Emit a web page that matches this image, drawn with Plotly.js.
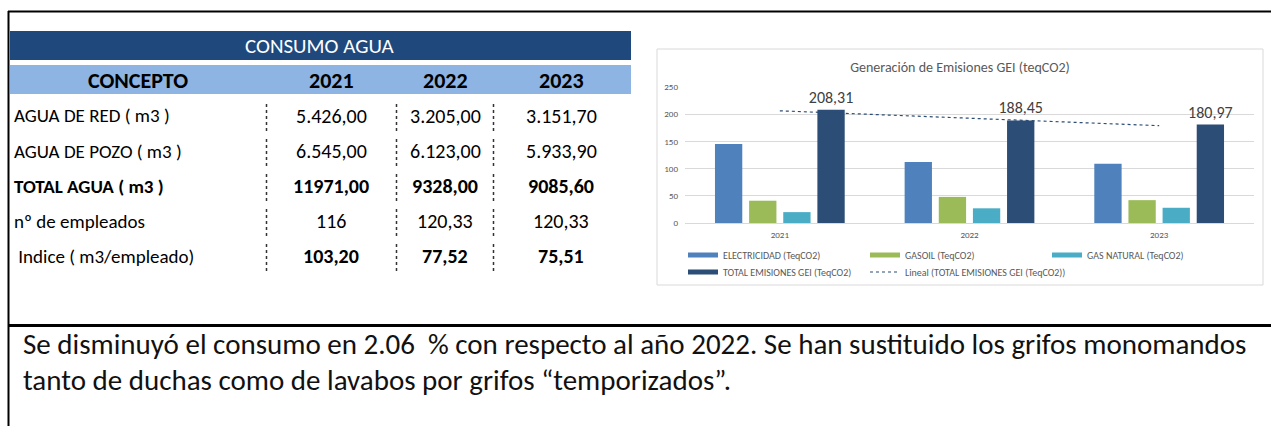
<!DOCTYPE html>
<html>
<head>
<meta charset="utf-8">
<script src="https://cdn.plot.ly/plotly-3.0.1.min.js"></script>
<style>html,body{margin:0;padding:0;background:#fff;}#chart{width:1271px;height:426px;}</style>
</head>
<body>
<div id="chart"></div>
<script>
// ---------- Table data ----------
const tableTitle = "CONSUMO AGUA";
const tableHeaders = ["CONCEPTO", "2021", "2022", "2023"];
const conceptos = ["AGUA DE RED ( m3 )", "AGUA DE POZO ( m3 )", "TOTAL AGUA ( m3 )", "nº de empleados", " Indice ( m3/empleado)"];
const valores2021 = ["5.426,00", "6.545,00", "11971,00", "116", "103,20"];
const valores2022 = ["3.205,00", "6.123,00", "9328,00", "120,33", "77,52"];
const valores2023 = ["3.151,70", "5.933,90", "9085,60", "120,33", "75,51"];
const etiquetaNegrita = [false, false, true, false, false];
const valorNegrita = [false, false, true, false, true];
const comentario = ["Se disminuyó el consumo en 2.06  % con respecto al año 2022. Se han sustituido los grifos monomandos",
                    "tanto de duchas como de lavabos por grifos “temporizados”."];

// ---------- Chart data ----------
const chartTitle = "Generación de Emisiones GEI (teqCO2)";
const years = ["2021", "2022", "2023"];
const electricidad = [145, 112, 109];
const gasoil = [41, 48, 42];
const gasNatural = [20, 27, 28];
const totalGEI = [208.31, 188.45, 180.97];
const seriesNames = ["ELECTRICIDAD (TeqCO2)", "GASOIL (TeqCO2)", "GAS NATURAL (TeqCO2)", "TOTAL EMISIONES GEI (TeqCO2)", "Lineal (TOTAL EMISIONES GEI (TeqCO2))"];
const seriesColors = ['#4f81bd', '#9bbb59', '#4bacc6', '#2c4d75'];

// ---------- helpers ----------
const W = 1271, H = 426;
const X = p => p / W;
const Y = p => 1 - p / H;
const FONT = "Carlito, Lato, Liberation Sans Narrow, sans-serif";
const fmt = v => v.toFixed(2).replace('.', ',');

// linear trendline of totals (least squares)
const n = totalGEI.length;
const xs = totalGEI.map((_, i) => i + 1);
const mx = xs.reduce((a, b) => a + b, 0) / n;
const my = totalGEI.reduce((a, b) => a + b, 0) / n;
let sxy = 0, sxx = 0;
xs.forEach((x, i) => { sxy += (x - mx) * (totalGEI[i] - my); sxx += (x - mx) * (x - mx); });
const slope = sxy / sxx;
const trend = xs.map(x => my + slope * (x - mx));

const barSeries = [electricidad, gasoil, gasNatural, totalGEI];
const traces = [];
barSeries.forEach((ys, i) => {
  const t = {type: 'bar', name: seriesNames[i], x: years, y: ys, marker: {color: seriesColors[i]},
    showlegend: false, hoverinfo: 'skip'};
  if (i === 3) {
    t.text = totalGEI.map(fmt); t.textposition = 'outside'; t.cliponaxis = false; t.constraintext = 'none';
    t.textfont = {family: FONT, size: 16, color: '#404040'};
  }
  traces.push(t);
});
// legend entries (wide Excel-like keys)
barSeries.forEach((ys, i) => {
  traces.push({type: 'scatter', mode: 'lines', name: seriesNames[i], x: [years[0]], y: [null],
    line: {color: seriesColors[i], width: 5}, legend: i < 3 ? 'legend' : 'legend2', hoverinfo: 'skip'});
});
traces.push({type: 'scatter', mode: 'lines', name: seriesNames[4], x: years, y: trend, legend: 'legend3',
  line: {color: '#2c4d75', width: 1.2, dash: 'dot'}, hoverinfo: 'skip'});

// ---------- shapes ----------
const shapes = [];
shapes.push({type: 'rect', xref: 'paper', yref: 'paper', x0: X(657), x1: X(1263), y0: Y(285), y1: Y(49),
  line: {color: '#d9d9d9', width: 1}, fillcolor: 'rgba(0,0,0,0)', layer: 'below'});
shapes.push({type: 'line', xref: 'paper', yref: 'paper', x0: X(8), x1: X(1271), y0: Y(11.5), y1: Y(11.5), line: {color: '#000', width: 2}});
shapes.push({type: 'line', xref: 'paper', yref: 'paper', x0: X(8.5), x1: X(8.5), y0: Y(11), y1: Y(426), line: {color: '#000', width: 2}});
shapes.push({type: 'line', xref: 'paper', yref: 'paper', x0: X(8), x1: X(1271), y0: Y(325.5), y1: Y(325.5), line: {color: '#000', width: 3}});
shapes.push({type: 'rect', xref: 'paper', yref: 'paper', x0: X(10), x1: X(631), y0: Y(60), y1: Y(31),
  line: {width: 0}, fillcolor: '#1f497d', layer: 'below'});
shapes.push({type: 'rect', xref: 'paper', yref: 'paper', x0: X(10), x1: X(631), y0: Y(94), y1: Y(65),
  line: {width: 0}, fillcolor: '#8db4e2', layer: 'below'});

const rowY = [116, 151, 186, 221, 256];
const colX = [331, 445, 561];
const sepX = [266.5, 396.5, 493.5];
rowY.forEach(cy => {
  sepX.forEach(sx => {
    shapes.push({type: 'line', xref: 'paper', yref: 'paper', x0: X(sx), x1: X(sx), y0: Y(cy + 15), y1: Y(cy - 15),
      line: {color: '#333', width: 1.5, dash: 'dot'}});
  });
});

// ---------- annotations ----------
const ann = [];
ann.push({xref: 'paper', yref: 'paper', x: X(319), y: Y(46), text: tableTitle, showarrow: false,
  xanchor: 'center', yanchor: 'middle', font: {family: FONT, size: 21, color: '#ffffff'}});
const headerX = [138, colX[0], colX[1], colX[2]];
tableHeaders.forEach((h, i) => {
  ann.push({xref: 'paper', yref: 'paper', x: X(headerX[i]), y: Y(80), text: '<b>' + h + '</b>', showarrow: false,
    xanchor: 'center', yanchor: 'middle', font: {family: FONT, size: 22, color: '#000'}});
});
const cols = [valores2021, valores2022, valores2023];
conceptos.forEach((c, r) => {
  const lbl = c.replace(/^ /, '&nbsp;');
  ann.push({xref: 'paper', yref: 'paper', x: X(12), y: Y(rowY[r]), text: etiquetaNegrita[r] ? '<b>' + lbl + '</b>' : lbl,
    showarrow: false, xanchor: 'left', yanchor: 'middle', font: {family: FONT, size: 19, color: '#000'}});
  cols.forEach((col, k) => {
    ann.push({xref: 'paper', yref: 'paper', x: X(colX[k]), y: Y(rowY[r]), text: valorNegrita[r] ? '<b>' + col[r] + '</b>' : col[r],
      showarrow: false, xanchor: 'center', yanchor: 'middle', font: {family: FONT, size: 20, color: '#000'}});
  });
});
ann.push({xref: 'paper', yref: 'paper', x: X(21), y: Y(344), text: comentario[0], showarrow: false,
  xanchor: 'left', yanchor: 'middle', font: {family: FONT, size: 29, color: '#111'}});
ann.push({xref: 'paper', yref: 'paper', x: X(21), y: Y(380), text: comentario[1], showarrow: false,
  xanchor: 'left', yanchor: 'middle', font: {family: FONT, size: 29, color: '#111'}});

const legendCommon = {orientation: 'h', xanchor: 'left', yanchor: 'middle', entrywidth: 137, itemwidth: 30,
  bgcolor: 'rgba(0,0,0,0)', font: {family: FONT, size: 10, color: '#595959'}, traceorder: 'normal'};

const layout = {
  width: W, height: H,
  margin: {l: 0, r: 0, t: 0, b: 0, pad: 0},
  paper_bgcolor: '#ffffff', plot_bgcolor: 'rgba(0,0,0,0)',
  font: {family: FONT, color: '#595959'},
  title: {text: chartTitle, x: X(960), y: Y(67), xref: 'paper', yref: 'paper', xanchor: 'center', yanchor: 'middle',
    font: {family: FONT, size: 14, color: '#595959'}},
  barmode: 'group', bargap: 0.28, bargroupgap: 0.2,
  xaxis: {domain: [X(685), X(1254)], type: 'category', showgrid: false, showline: false, zeroline: false, ticks: '',
    ticklabelstandoff: 5, tickfont: {family: FONT, size: 9, color: '#595959'}, fixedrange: true},
  yaxis: {domain: [Y(223), Y(87)], range: [0, 250], dtick: 50, showgrid: true, gridcolor: '#d9d9d9', gridwidth: 1,
    zeroline: true, zerolinecolor: '#d9d9d9', zerolinewidth: 1, showline: false, ticks: '', ticklabelstandoff: 6,
    tickfont: {family: FONT, size: 9, color: '#595959'}, fixedrange: true},
  legend: Object.assign({}, legendCommon, {x: X(683), y: Y(255)}),
  legend2: Object.assign({}, legendCommon, {x: X(683), y: Y(272)}),
  legend3: Object.assign({}, legendCommon, {x: X(865), y: Y(272), entrywidth: 0}),
  shapes: shapes,
  annotations: ann,
  showlegend: true
};

Plotly.newPlot('chart', traces, layout, {displayModeBar: false, staticPlot: true});
</script>
</body>
</html>
